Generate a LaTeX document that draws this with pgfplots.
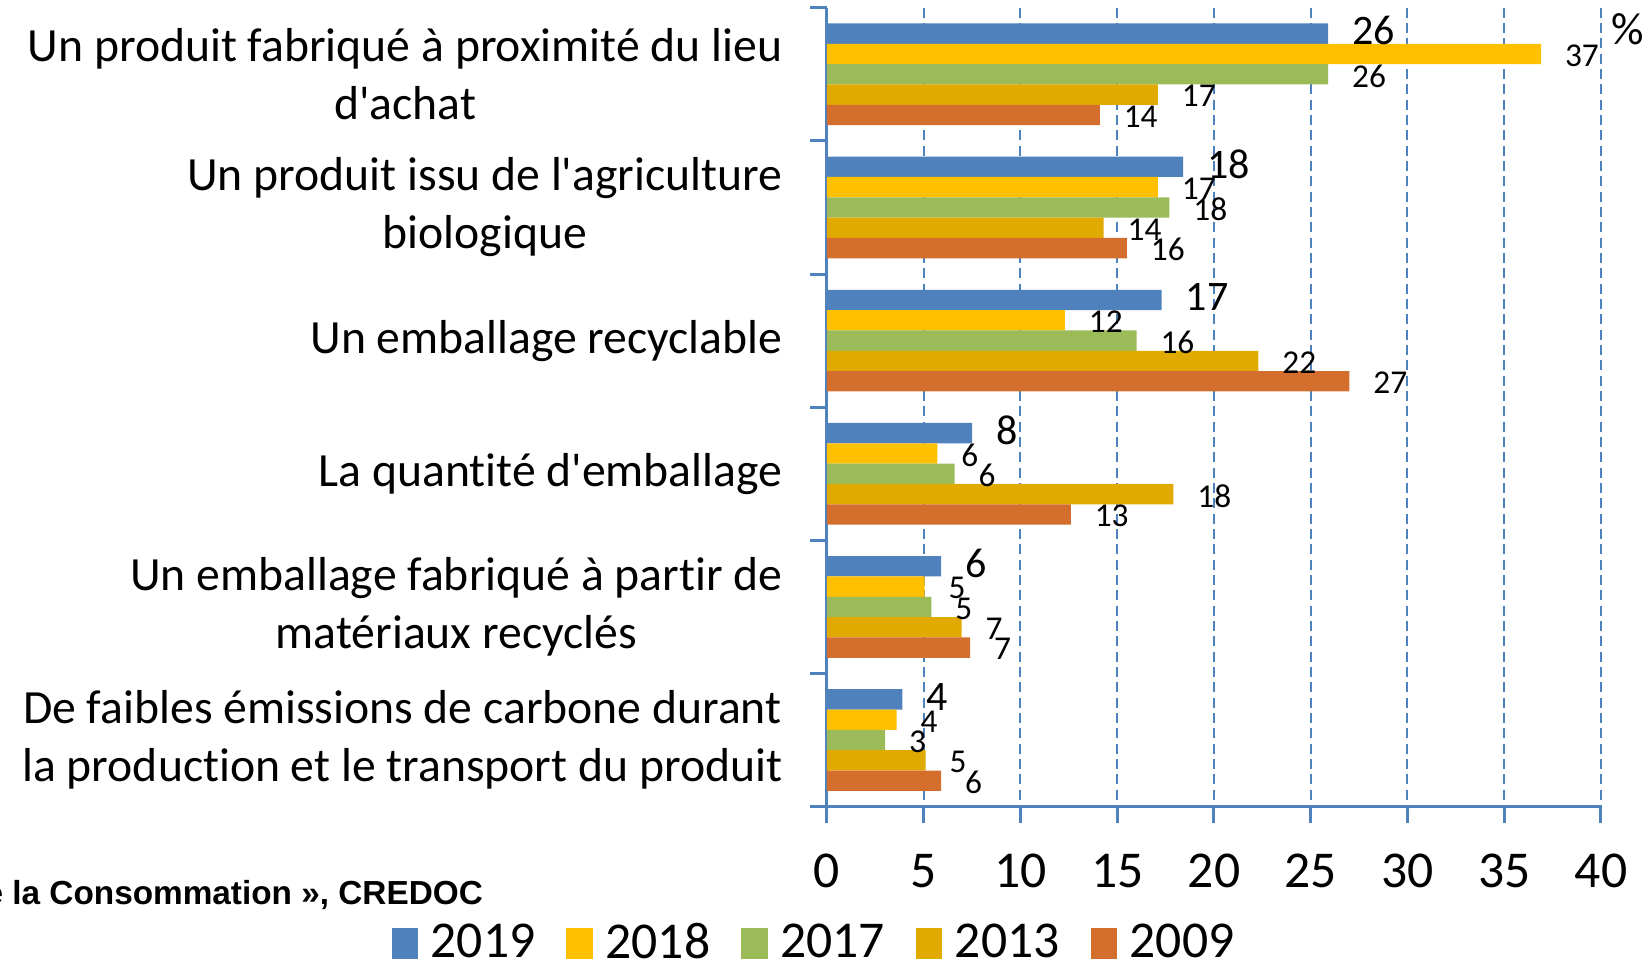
\documentclass[border=0pt]{standalone}
\usepackage{fontspec}
\setmainfont{Carlito}[Ligatures={TeXOff,CommonOff}]
\newfontfamily\srcfont{Liberation Sans}
\usepackage{pgfplots}
\pgfplotsset{compat=1.18}
\definecolor{c2019}{RGB}{79,129,189}
\definecolor{c2018}{RGB}{255,192,0}
\definecolor{c2017}{RGB}{155,187,89}
\definecolor{c2013}{RGB}{224,170,0}
\definecolor{c2009}{RGB}{211,110,44}
\definecolor{axblue}{RGB}{79,129,189}
\newcommand{\fs}[2]{\fontsize{#1}{#2}\selectfont}

\begin{document}
\begin{tikzpicture}
\useasboundingbox (-248.1pt,-46pt) rectangle (246.6pt,242pt);
\begin{axis}[
  at={(0,0)}, anchor=south west,
  width=232.2pt, height=239.7pt, scale only axis,
  clip=false,
  xbar, bar width=6.1pt,
  xmin=0, xmax=40,
  ymin=-0.5, ymax=5.5, y dir=reverse,
  axis x line*=bottom, axis y line*=left,
  axis line style={draw=axblue, line width=0.9pt},
  xtick={0,5,...,40},
  xmajorgrids,
  major grid style={draw=axblue, dash pattern=on 3pt off 1.6pt, line width=0.6pt},
  ytick={0,...,5},
  yticklabels={
    {Un produit fabriqué à proximité du lieu\\d'achat},
    {Un produit issu de l'agriculture\\biologique},
    {Un emballage recyclable},
    {La quantité d'emballage},
    {Un emballage fabriqué à partir de\\matériaux recyclés},
    {De faibles émissions de carbone durant\\la production et le transport du produit}},
  minor ytick={-0.5,0.5,...,5.5},
  tick align=outside,
  major tick length=4.8pt, minor tick length=5pt,
  every major y tick/.style={draw=none},
  every minor y tick/.style={draw=axblue, line width=0.9pt},
  every major x tick/.style={draw=axblue, line width=0.9pt},
  /pgf/number format/assume math mode=true,
  xticklabel style={font=\fs{15.5}{18}, inner sep=0pt, yshift=-9.3pt},
  yticklabel style={font=\fs{14.3}{17.4}, align=center, inner sep=0pt, anchor=east, xshift=-8.4pt},
  point meta=explicit symbolic,
  nodes near coords={\pgfplotspointmeta},
  nodes near coords align={horizontal},
  every node near coord/.append style={anchor=west, inner sep=0pt, xshift=7pt, text=black},
  legend columns=5,
  legend image code/.code={\fill[#1] (0pt,-4.7pt) rectangle (7.9pt,4.7pt);},
  legend style={at={(axis description cs:-0.018,-0.171)}, anchor=center, draw=none, fill=none,
    font=\fs{15.5}{18}, nodes={inner sep=0pt},
    /tikz/every odd column/.append style={column sep=3.8pt},
    /tikz/every even column/.append style={column sep=9.3pt}},
]
\addplot[fill=c2019, draw=none, bar shift=12.2pt,
  every node near coord/.append style={font=\fs{12.6}{14}, yshift=0.8pt}]
  coordinates {(25.9,0) [26] (18.4,1) [18] (17.3,2) [17] (7.5,3) [8] (5.9,4) [6] (3.9,5) [4]};
\addplot[fill=c2018, draw=none, bar shift=6.1pt,
  every node near coord/.append style={font=\fs{10}{12}, yshift=-0.5pt}]
  coordinates {(36.9,0) [37] (17.1,1) [17] (12.3,2) [12] (5.7,3) [6] (5.05,4) [5] (3.6,5) [4]};
\addplot[fill=c2017, draw=none, bar shift=0pt,
  every node near coord/.append style={font=\fs{10}{12}, yshift=-0.5pt}]
  coordinates {(25.9,0) [26] (17.7,1) [18] (16.0,2) [16] (6.6,3) [6] (5.4,4) [5] (3.0,5) [3]};
\addplot[fill=c2013, draw=none, bar shift=-6.1pt,
  every node near coord/.append style={font=\fs{10}{12}, yshift=-0.5pt}]
  coordinates {(17.1,0) [17] (14.3,1) [14] (22.3,2) [22] (17.9,3) [18] (6.96,4) [7] (5.1,5) [5]};
\addplot[fill=c2009, draw=none, bar shift=-12.2pt,
  every node near coord/.append style={font=\fs{10}{12}, yshift=-0.5pt}]
  coordinates {(14.1,0) [14] (15.5,1) [16] (27.0,2) [27] (12.6,3) [13] (7.4,4) [7] (5.9,5) [6]};
\legend{2019,2018,2017,2013,2009}
\node[font=\fs{13.6}{16}] at (axis description cs:1.035,0.973) {\%};
\end{axis}
\node[anchor=base east, font=\srcfont\bfseries\fs{10}{11}] at (-99.7pt,-29.3pt) {de la Consommation », CREDOC};
\end{tikzpicture}
\end{document}
